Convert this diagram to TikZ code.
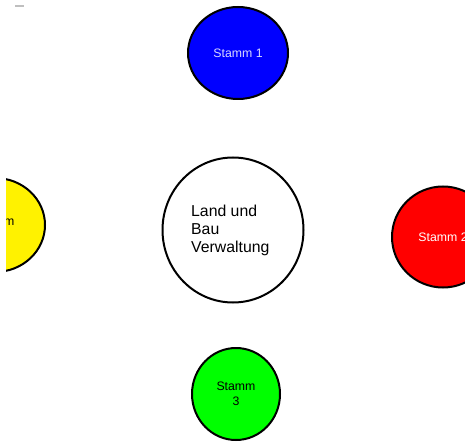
\documentclass[tikz,border=0pt]{standalone}
\usepackage{fontspec}
\setmainfont{Liberation Sans}
\usetikzlibrary{shapes.geometric}
\begin{document}
\begin{tikzpicture}[x=1pt,y=-1pt,
  blob/.style={draw=black,line width=2pt,ellipse,inner sep=0pt},
  stext/.style={font=\fontsize{12.3}{15}\selectfont,align=center,inner sep=0pt}]
\useasboundingbox (0,0) rectangle (465,443);
\fill[white] (0,0) rectangle (465,443);
\fill[gray!50] (15,5) rectangle (24,7.5);
\begin{scope}
\clip (6,0) rectangle (466,443);
\node[blob,fill=blue,minimum width=100pt,minimum height=92pt] (s1) at (238,53) {};
\node[stext,text=blue!15!white] (t1) at (s1) {Stamm 1};
\node[blob,fill=white,minimum width=141pt,minimum height=145pt] (lv) at (233,230) {};
\node[font=\fontsize{15.8}{18}\selectfont,align=left,anchor=west,inner sep=0pt] (tl) at (191,230) {Land und\\Bau\\Verwaltung};
\node[blob,fill=yellow,minimum width=100pt,minimum height=94pt] (s4) at (-5,225) {};
\node[stext,anchor=east] (t4) at (14.5,221) {Stamm};
\node[blob,fill=red,minimum width=102pt,minimum height=101pt] (s2) at (443,237) {};
\node[stext,text=white] (t2) at (443,237) {Stamm 2};
\node[blob,fill=green,minimum width=88pt,minimum height=92pt] (s3) at (236,394) {};
\node[stext] (t3) at (s3) {Stamm\\3};
\end{scope}
\end{tikzpicture}
\end{document}
